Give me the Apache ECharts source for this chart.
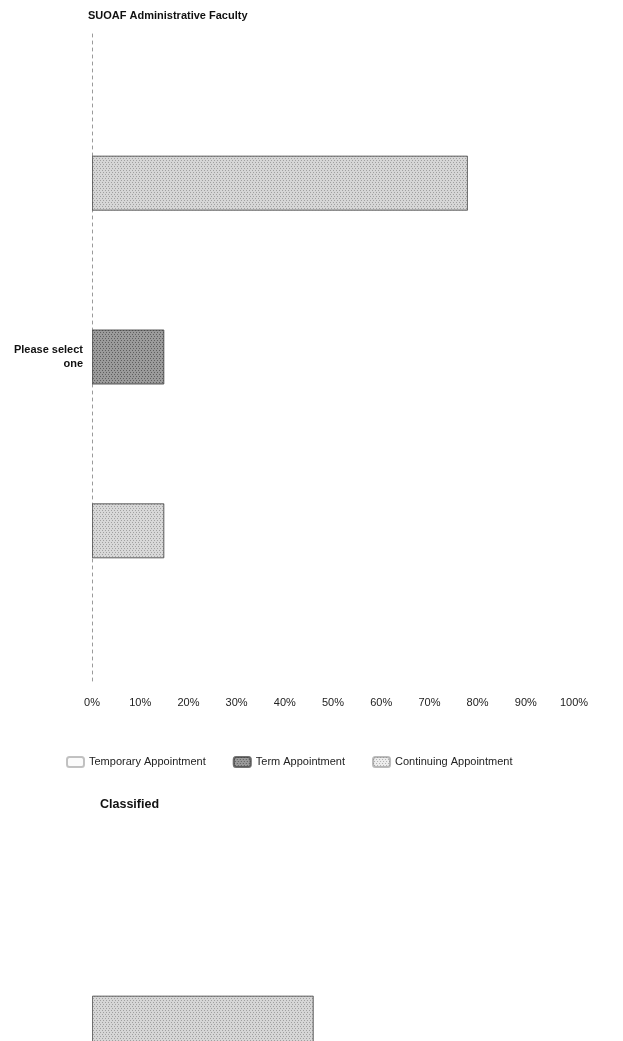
<!DOCTYPE html>
<html>
<head>
<meta charset="utf-8">
<script src="https://cdn.jsdelivr.net/npm/echarts@6/dist/echarts.min.js"></script>
<style>
  html, body { margin: 0; padding: 0; background: #fff; }
  #chart { width: 623px; height: 1041px; }
</style>
</head>
<body>
<div id="chart"></div>
<script>
// Appointment types, one bar each per category
const seriesNames = ['Temporary Appointment', 'Term Appointment', 'Continuing Appointment'];
const categories = ['Please select one'];
// Percent of respondents, SUOAF Administrative Faculty
const suoafValues = [15, 15, 78];
// Percent of respondents, Classified (only the continuing bar is on the page)
const classifiedValues = [null, null, 46];
const panelTitles = ['SUOAF Administrative Faculty', 'Classified'];

const FONT = '"Liberation Sans", Arial, sans-serif';

// Grey fills with a fine dot texture, like a printed stipple
const fills = [
  { color: '#d8d8d8', dots: 'rgba(60,60,60,0.35)' },
  { color: '#9b9b9b', dots: 'rgba(20,20,20,0.45)' },
  { color: '#d6d6d6', dots: 'rgba(60,60,60,0.35)' }
];
function stipple(dots) {
  return {
    symbol: 'rect',
    symbolSize: 1,
    dashArrayX: [[1, 2], [0, 1, 1, 1]],
    dashArrayY: [1, 1],
    color: dots
  };
}

// The second panel runs on past the bottom of the page
const grids = [
  { left: 92, width: 482, top: 33, height: 648, outerBoundsMode: 'none' },
  { left: 92, width: 482, top: 873, height: 648, outerBoundsMode: 'none' }
];

// Bars stack top-down in series order, so the last appointment type is drawn first (on top)
function makeSeries(values, gridIdx) {
  return [2, 1, 0].map(i => ({
    type: 'bar',
    name: seriesNames[i],
    xAxisIndex: gridIdx,
    yAxisIndex: gridIdx,
    data: [values[i]],
    barWidth: 55,
    barGap: '216%',
    silent: true,
    itemStyle: {
      color: fills[i].color,
      decal: stipple(fills[i].dots),
      borderColor: 'rgba(70,70,70,0.5)',
      borderWidth: 1
    }
  }));
}

const xAxisBase = {
  type: 'value',
  min: 0,
  max: 100,
  interval: 10,
  axisLine: { show: false },
  axisTick: { show: false },
  splitLine: { show: false },
  axisLabel: {
    formatter: '{value}%',
    color: '#222',
    fontFamily: FONT,
    fontSize: 11,
    margin: 16
  }
};

const option = {
  animation: false,
  backgroundColor: '#fff',
  title: [
    {
      text: panelTitles[0], left: 83, top: 5,
      textStyle: { fontFamily: FONT, fontSize: 11, fontWeight: 'bold', color: '#111' }
    },
    {
      text: panelTitles[1], left: 95, top: 793,
      textStyle: { fontFamily: FONT, fontSize: 12.5, fontWeight: 'bold', color: '#111' }
    }
  ],
  legend: {
    data: [
      { name: seriesNames[0], itemStyle: { color: '#fbfbfb', borderColor: 'rgba(120,120,120,0.45)', decal: 'none' } },
      { name: seriesNames[1] },
      { name: seriesNames[2], itemStyle: { color: '#ededed', borderColor: 'rgba(150,150,150,0.4)' } }
    ],
    left: 61,
    top: 751,
    itemWidth: 17,
    itemHeight: 10,
    itemGap: 27,
    selectedMode: false,
    textStyle: { fontFamily: FONT, fontSize: 11, color: '#222' }
  },
  grid: grids,
  xAxis: [
    Object.assign({ gridIndex: 0 }, xAxisBase),
    Object.assign({ gridIndex: 1 }, xAxisBase, { axisLabel: { show: false } })
  ],
  yAxis: [
    {
      type: 'category',
      gridIndex: 0,
      data: categories,
      axisLine: { show: true, lineStyle: { color: '#9a9a9a', type: [3, 4], width: 1 } },
      axisTick: { show: false },
      axisLabel: {
        formatter: v => v.replace('select ', 'select\n'),
        color: '#111',
        fontFamily: FONT,
        fontSize: 11,
        fontWeight: 'bold',
        lineHeight: 14,
        align: 'right',
        margin: 9
      }
    },
    {
      type: 'category',
      gridIndex: 1,
      data: categories,
      axisLine: { show: false },
      axisTick: { show: false },
      axisLabel: { show: false }
    }
  ],
  series: makeSeries(suoafValues, 0).concat(makeSeries(classifiedValues, 1))
};

const chart = echarts.init(document.getElementById('chart'), null, { renderer: 'canvas' });
chart.setOption(option);
</script>
</body>
</html>
